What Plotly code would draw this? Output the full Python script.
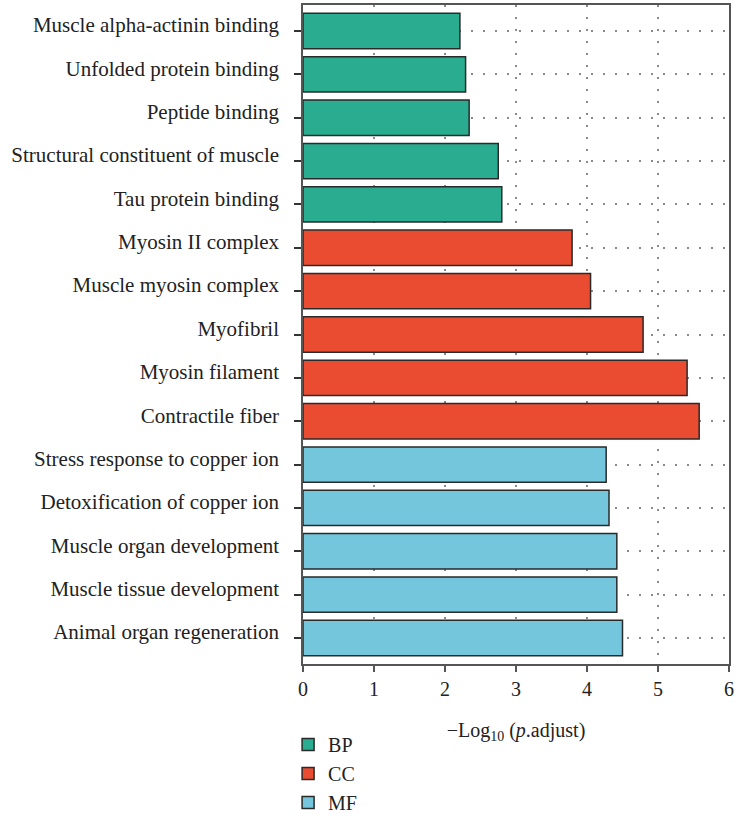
import plotly.graph_objects as go

bp_terms = ["Muscle alpha-actinin binding", "Unfolded protein binding", "Peptide binding",
            "Structural constituent of muscle", "Tau protein binding"]
bp_values = [2.21, 2.29, 2.34, 2.75, 2.80]

cc_terms = ["Myosin II complex", "Muscle myosin complex", "Myofibril",
            "Myosin filament", "Contractile fiber"]
cc_values = [3.79, 4.05, 4.79, 5.41, 5.58]

mf_terms = ["Stress response to copper ion", "Detoxification of copper ion",
            "Muscle organ development", "Muscle tissue development",
            "Animal organ regeneration"]
mf_values = [4.27, 4.31, 4.42, 4.42, 4.50]

groups = [("BP", bp_terms, bp_values, "#2aac90"),
          ("CC", cc_terms, cc_values, "#e94c31"),
          ("MF", mf_terms, mf_values, "#73c6dc")]

font_family = "Liberation Serif, Times New Roman, serif"

fig = go.Figure()
for name, terms, vals, color in groups:
    fig.add_trace(go.Bar(
        x=vals, y=terms, orientation="h", name=name,
        marker=dict(color=color, line=dict(color="#2a2a2a", width=1.5)),
        width=0.815,
    ))

order = bp_terms + cc_terms + mf_terms

fig.update_layout(
    width=738, height=818,
    margin=dict(l=303, r=9, t=5, b=154, autoexpand=False),
    paper_bgcolor="white", plot_bgcolor="white",
    barmode="overlay",
    font=dict(family=font_family, size=20, color="#222222"),
    legend=dict(x=-0.035, y=-0.0926, xanchor="left", yanchor="top",
                orientation="v", font=dict(size=20), tracegroupgap=2,
                itemwidth=30),
    showlegend=True,
)
grid_dash = "1.5px,10.5px"
fig.update_xaxes(
    range=[0, 6], dtick=1, tick0=0, automargin=False,
    showgrid=True, gridcolor="#8a8a8a", griddash=grid_dash, gridwidth=1.5,
    showline=True, linecolor="#555555", linewidth=1.5, mirror=True,
    ticks="outside", ticklen=6, tickcolor="#555555", tickwidth=1.5,
    zeroline=False, tickfont=dict(size=20),
    title=dict(text="−Log<sub>10</sub> (<i>p</i>.adjust)", font=dict(size=20), standoff=24),
)
fig.update_yaxes(
    categoryorder="array", categoryarray=order, range=[14.6, -0.6], automargin=False,
    showgrid=True, gridcolor="#8a8a8a", griddash=grid_dash, gridwidth=1.5,
    showline=True, linecolor="#555555", linewidth=1.5, mirror=True,
    ticks="outside", ticklen=7, tickcolor="#333333", tickwidth=1.5,
    ticklabelstandoff=11, ticklabelshift=6, tickfont=dict(size=21),
)

fig.write_html(
    "out.html",
    config={"displayModeBar": False},
    post_script="document.body.style.margin='0';document.body.style.overflow='hidden';",
)
